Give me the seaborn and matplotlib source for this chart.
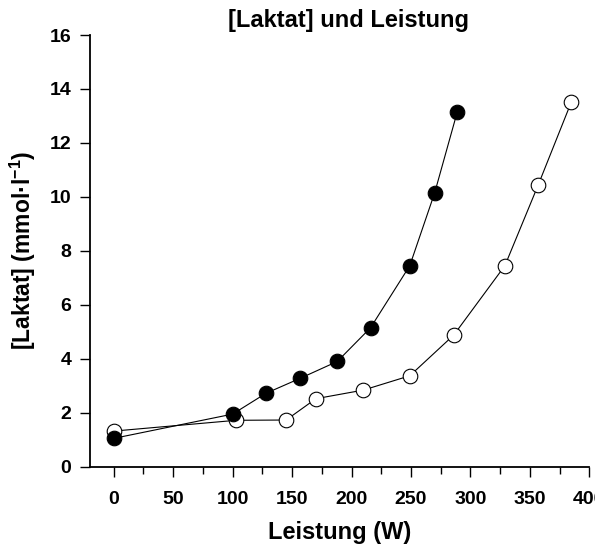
import matplotlib
matplotlib.use("Agg")
import matplotlib.pyplot as plt
from matplotlib.ticker import MultipleLocator
import seaborn as sns
import pandas as pd

# Data
open_w = [0, 103, 145, 170, 210, 249, 286, 329, 357, 385]
open_lac = [1.32, 1.72, 1.73, 2.52, 2.84, 3.37, 4.88, 7.45, 10.44, 13.53]
filled_w = [0, 100, 128, 157, 188, 216, 249, 270, 289]
filled_lac = [1.05, 1.95, 2.72, 3.28, 3.90, 5.15, 7.45, 10.16, 13.16]

title = "[Laktat] und Leistung"
xlabel = "Leistung (W)"
ylabel = "[Laktat] (mmol·l$^{-1}$)"
xticks = [0, 50, 100, 150, 200, 250, 300, 350, 400]
yticks = [0, 2, 4, 6, 8, 10, 12, 14, 16]

sns.set_theme(style="ticks")
plt.rcParams["font.family"] = ["Liberation Sans", "DejaVu Sans"]
plt.rcParams["mathtext.fontset"] = "custom"
plt.rcParams["mathtext.bf"] = "Liberation Sans:bold"
plt.rcParams["mathtext.rm"] = "Liberation Sans:bold"
plt.rcParams["mathtext.default"] = "bf"
plt.rcParams["text.color"] = "black"
plt.rcParams["axes.labelcolor"] = "black"
plt.rcParams["xtick.color"] = "black"
plt.rcParams["ytick.color"] = "black"

fig = plt.figure(figsize=(5.95, 5.48), dpi=100)
ax = fig.add_axes([90 / 595, 1 - 466.7 / 548, (589.3 - 90) / 595, (466.7 - 35) / 548])

df_open = pd.DataFrame({"w": open_w, "lac": open_lac})
df_fill = pd.DataFrame({"w": filled_w, "lac": filled_lac})

sns.lineplot(data=df_open, x="w", y="lac", ax=ax, color="black", linewidth=0.8,
             marker="o", markersize=10.5, markerfacecolor="white",
             markeredgecolor="black", markeredgewidth=0.8, sort=False)
sns.lineplot(data=df_fill, x="w", y="lac", ax=ax, color="black", linewidth=0.8,
             marker="o", markersize=10.5, markerfacecolor="black",
             markeredgecolor="black", markeredgewidth=0.8, sort=False)

ax.set_xlim(-20, 400)
ax.set_ylim(0, 16)
ax.set_xticks(xticks)
ax.set_xticklabels([str(t) for t in xticks])
ax.set_yticks(yticks)
ax.set_yticklabels([str(t) for t in yticks])
ax.xaxis.set_minor_locator(MultipleLocator(25))

for s in ["top", "right"]:
    ax.spines[s].set_visible(False)
for s in ["left", "bottom"]:
    ax.spines[s].set_linewidth(1.3)
    ax.spines[s].set_color("black")

ax.tick_params(axis="both", which="major", length=7.5, width=1.0, color="black",
               labelsize=14, labelcolor="black")
ax.tick_params(axis="x", which="major", pad=10)
ax.tick_params(axis="y", which="major", pad=6)
ax.tick_params(axis="x", which="minor", length=5, width=1.0, color="black")
for lab in ax.get_xticklabels() + ax.get_yticklabels():
    lab.set_fontweight("bold")

ax.set_xlabel(xlabel, fontsize=17, fontweight="bold", labelpad=9, color="black")
ax.set_ylabel(ylabel, fontsize=16.5, fontweight="bold", labelpad=8, color="black")
fig.text(348 / 595, 1 - 21 / 548, title, fontsize=17, fontweight="bold",
         ha="center", va="center", color="black")

fig.savefig("out.png", dpi=100)
